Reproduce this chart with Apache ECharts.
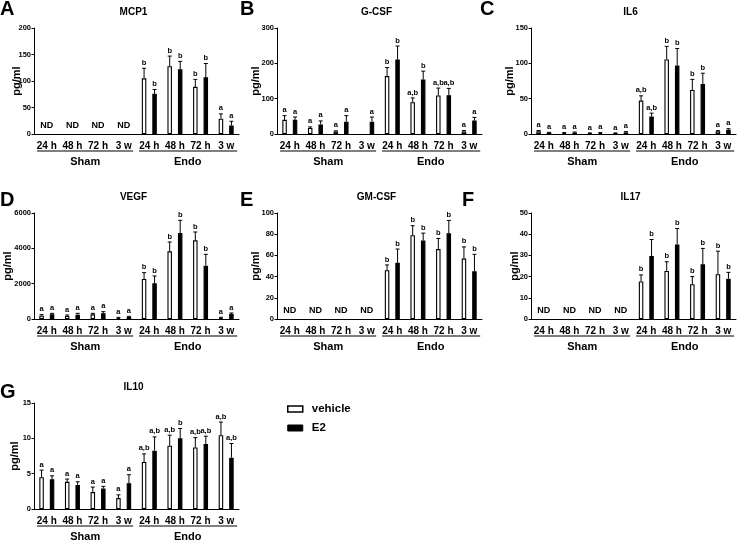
<!DOCTYPE html>
<html><head><meta charset="utf-8">
<script src="https://cdn.jsdelivr.net/npm/echarts@6/dist/echarts.min.js"></script>
<style>html,body{margin:0;padding:0;background:#fff}#c{width:739px;height:542px}</style>
</head><body><div id="c"></div>
<script>
// ---------- data ----------
const categories = ['24 h','48 h','72 h','3 w','24 h','48 h','72 h','3 w'];
const groupLabels = ['Sham','Endo'];
const seriesNames = ['vehicle','E2'];
const panelNames = ['MCP1','G-CSF','IL6','VEGF','GM-CSF','IL17','IL10'];
const panelLetters = ['A','B','C','D','E','F','G'];
const yMax = [200,300,150,6000,100,50,15];
const yInterval = [50,100,50,2000,20,10,5];

const mcp1Vehicle = [null,null,null,null,105,128,89,29];
const mcp1VehicleSem = [null,null,null,null,19,19,14,9];
const mcp1E2 = [null,null,null,null,76,122,107,16];
const mcp1E2Sem = [null,null,null,null,8,15,26,8];
const mcp1VehicleLetters = [null,null,null,null,'b','b','b','a'];
const mcp1E2Letters = [null,null,null,null,'b','b','b','a'];

const gcsfVehicle = [40,17,7,null,164,90,109,7];
const gcsfVehicleSem = [12,3,2,null,24,12,21,3];
const gcsfE2 = [40,27,35,35,211,154,110,38];
const gcsfE2Sem = [8,10,17,13,38,24,19,9];
const gcsfVehicleLetters = ['a','a','a',null,'b','a,b','a,b','a'];
const gcsfE2Letters = ['a','a','a','a','b','b','a,b','a'];

const il6Vehicle = [3.75,1.4,1,1,47.3,105.5,62.3,3.75];
const il6VehicleSem = [1.3,0.6,0.5,0.5,6.7,18.5,15,1];
const il6E2 = [1.9,2,1.5,2.3,24.8,97,70.8,6];
const il6E2Sem = [0.4,0.8,0.5,1,4.7,24,15.2,1.5];
const il6VehicleLetters = ['a','a','a','a','a,b','b','b','a'];
const il6E2Letters = ['a','a','a','a','a,b','b','b','a'];

const vegfVehicle = [189,170,264,57,2264,3830,4453,57];
const vegfVehicleSem = [56,56,56,37,359,528,472,37];
const vegfE2 = [264,245,320,113,2019,4868,3019,283];
const vegfE2Sem = [56,75,95,38,415,717,641,57];
const vegfVehicleLetters = ['a','a','a','a','b','b','b','a'];
const vegfE2Letters = ['a','a','a','a','b','b','b','a'];

const gmcsfVehicle = [null,null,null,null,46,79,66,57];
const gmcsfVehicleSem = [null,null,null,null,5,9,10,11];
const gmcsfE2 = [null,null,null,null,53,74,81,45];
const gmcsfE2Sem = [null,null,null,null,13,7,12,16];
const gmcsfVehicleLetters = [null,null,null,null,'b','b','b','b'];
const gmcsfE2Letters = [null,null,null,null,'b','b','b','b'];

const il17Vehicle = [null,null,null,null,17.7,22.7,16.4,21.1];
const il17VehicleSem = [null,null,null,null,3.1,4.3,3.6,10.9];
const il17E2 = [null,null,null,null,29.7,35.2,25.8,19];
const il17E2Sem = [null,null,null,null,7.8,7.5,7.5,3];
const il17VehicleLetters = [null,null,null,null,'b','b','b','b'];
const il17E2Letters = [null,null,null,null,'b','b','b','b'];

const il10Vehicle = [4.5,3.84,2.4,1.55,6.65,8.95,8.7,10.45];
const il10VehicleSem = [1.0,0.4,0.7,0.45,1.15,1.5,1.4,1.85];
const il10E2 = [4.2,3.4,2.9,3.65,8.25,10.0,9.2,7.27];
const il10E2Sem = [0.5,0.45,0.3,1.2,1.95,1.4,1.1,2.0];
const il10VehicleLetters = ['a','a','a','a','a,b','a,b','a,b','a,b'];
const il10E2Letters = ['a','a','a','a','a,b','b','a,b','a,b'];

const panels = [
  [mcp1Vehicle,mcp1VehicleSem,mcp1E2,mcp1E2Sem,mcp1VehicleLetters,mcp1E2Letters],
  [gcsfVehicle,gcsfVehicleSem,gcsfE2,gcsfE2Sem,gcsfVehicleLetters,gcsfE2Letters],
  [il6Vehicle,il6VehicleSem,il6E2,il6E2Sem,il6VehicleLetters,il6E2Letters],
  [vegfVehicle,vegfVehicleSem,vegfE2,vegfE2Sem,vegfVehicleLetters,vegfE2Letters],
  [gmcsfVehicle,gmcsfVehicleSem,gmcsfE2,gmcsfE2Sem,gmcsfVehicleLetters,gmcsfE2Letters],
  [il17Vehicle,il17VehicleSem,il17E2,il17E2Sem,il17VehicleLetters,il17E2Letters],
  [il10Vehicle,il10VehicleSem,il10E2,il10E2Sem,il10VehicleLetters,il10E2Letters]
];

// ---------- layout ----------
const FONT = '"Liberation Sans", Arial, Helvetica, sans-serif';
const colLeft = [34, 277, 531];
const rowTop = [28, 213, 403];
const gridW = 205, gridH = 106;
const panelPos = [[0,0],[1,0],[2,0],[0,1],[1,1],[2,1],[0,2]];
const nameGaps = [12,15.5,15.5,21,15.5,11,13.5];
const letterPos = [[0,9],[240,9],[480,9],[0,200],[240,200],[462,200],[0,392]];
const BAR_OFF = 5.25;

const grid = [], xAxis = [], yAxis = [], series = [], graphic = [];

panels.forEach((p, i) => {
  const [c, r] = panelPos[i];
  const left = colLeft[c], top = rowTop[r];
  grid.push({left: left, top: top, width: gridW, height: gridH, containLabel: false});
  xAxis.push({
    type: 'category', gridIndex: i, data: categories,
    axisLine: {lineStyle: {color: '#000', width: 1}},
    axisTick: {show: false},
    axisLabel: {color: '#000', fontFamily: FONT, fontWeight: 'bold', fontSize: 10, margin: 7, interval: 0},
    splitLine: {show: false}
  });
  yAxis.push({
    type: 'value', gridIndex: i, min: 0, max: yMax[i], interval: yInterval[i],
    name: 'pg/ml', nameLocation: 'middle', nameGap: nameGaps[i], nameRotate: 90, nameMoveOverlap: false,
    nameTextStyle: {color: '#000', fontFamily: FONT, fontWeight: 'bold', fontSize: 11},
    axisLine: {show: true, lineStyle: {color: '#000', width: 1}},
    axisTick: {show: true, length: 2.5, lineStyle: {color: '#000'}},
    axisLabel: {color: '#000', fontFamily: FONT, fontWeight: 'bold', fontSize: 7.5, margin: 3,
      formatter: v => String(v)},
    splitLine: {show: false}
  });
  const [veh, vehSem, e2, e2Sem, vehL, e2L] = p;
  series.push({
    name: seriesNames[0], type: 'bar', xAxisIndex: i, yAxisIndex: i, data: veh,
    barWidth: 4.5, barGap: '133%',
    itemStyle: {color: '#fff', borderColor: '#000', borderWidth: 1.1}, silent: true
  });
  series.push({
    name: seriesNames[1], type: 'bar', xAxisIndex: i, yAxisIndex: i, data: e2,
    barWidth: 4.5, barGap: '133%',
    itemStyle: {color: '#000', borderColor: '#000', borderWidth: 1.1}, silent: true
  });
  const errData = [];
  const letters = [];
  categories.forEach((cat, k) => {
    if (veh[k] == null && e2[k] == null) { errData.push([k, 0, 0, 2]); letters.push('ND'); return; }
    if (veh[k] != null) { errData.push([k, veh[k], vehSem[k], 0]); letters.push(vehL[k]); }
    if (e2[k] != null) { errData.push([k, e2[k], e2Sem[k], 1]); letters.push(e2L[k]); }
  });
  series.push({
    type: 'custom', xAxisIndex: i, yAxisIndex: i, data: errData, clip: false, silent: true, z: 5,
    encode: {x: 0, y: 1},
    renderItem: (params, api) => {
      const k = api.value(0), mean = api.value(1), sem = api.value(2), side = api.value(3);
      const txt = letters[params.dataIndex];
      const base = api.coord([k, mean]);
      if (side === 2) {
        return {type: 'text', style: {text: txt, x: base[0], y: base[1] - 8, align: 'center', verticalAlign: 'middle',
          fill: '#000', font: 'bold 9px ' + FONT}};
      }
      const topPt = api.coord([k, mean + sem]);
      const x = base[0] + (side === 1 ? BAR_OFF : -BAR_OFF);
      const children = [
        {type: 'line', shape: {x1: x, y1: base[1], x2: x, y2: topPt[1]}, style: {stroke: '#000', lineWidth: 1}},
        {type: 'line', shape: {x1: x - 2, y1: topPt[1], x2: x + 2, y2: topPt[1]}, style: {stroke: '#000', lineWidth: 1}}
      ];
      if (txt) children.push({type: 'text', style: {text: txt, x: x, y: topPt[1] - 5.5, align: 'center', verticalAlign: 'middle',
        fill: '#000', font: 'bold 7.5px ' + FONT}});
      return {type: 'group', children: children};
    }
  });

  // title, panel letter, group labels & underlines
  const axisY = top + gridH;
  graphic.push({type: 'text', x: left + gridW / 2 - 3, y: top - 15.5,
    style: {text: panelNames[i], align: 'center', verticalAlign: 'middle', fill: '#000', font: 'bold 10px ' + FONT}});
  graphic.push({type: 'text', x: letterPos[i][0], y: letterPos[i][1],
    style: {text: panelLetters[i], align: 'left', verticalAlign: 'middle', fill: '#000', font: 'bold 20px ' + FONT}});
  const cw = gridW / categories.length;
  [[0.12, 3.87], [4.1, 7.93]].forEach((seg, g) => {
    graphic.push({type: 'line', shape: {x1: left + seg[0] * cw, y1: axisY + 17, x2: left + seg[1] * cw, y2: axisY + 17},
      style: {stroke: '#000', lineWidth: 1.2}});
    graphic.push({type: 'text', x: left + (g === 0 ? 2 : 6) * cw, y: axisY + 28,
      style: {text: groupLabels[g], align: 'center', verticalAlign: 'middle', fill: '#000', font: 'bold 11px ' + FONT}});
  });
});

const chart = echarts.init(document.getElementById('c'), null, {renderer: 'canvas'});
chart.setOption({
  animation: false,
  backgroundColor: '#fff',
  grid: grid, xAxis: xAxis, yAxis: yAxis, series: series, graphic: graphic,
  legend: {
    orient: 'vertical', left: 282, top: 398, itemWidth: 15, itemHeight: 6, itemGap: 7,
    icon: 'rect', selectedMode: false,
    textStyle: {color: '#000', fontFamily: FONT, fontWeight: 'bold', fontSize: 11.5, lineHeight: 12, padding: [0, 0, 0, 4]},
    data: [
      {name: 'vehicle', itemStyle: {color: '#fff', borderColor: '#000', borderWidth: 1.5}},
      {name: 'E2', itemStyle: {color: '#000', borderColor: '#000', borderWidth: 1}}
    ]
  }
});
</script></body></html>
